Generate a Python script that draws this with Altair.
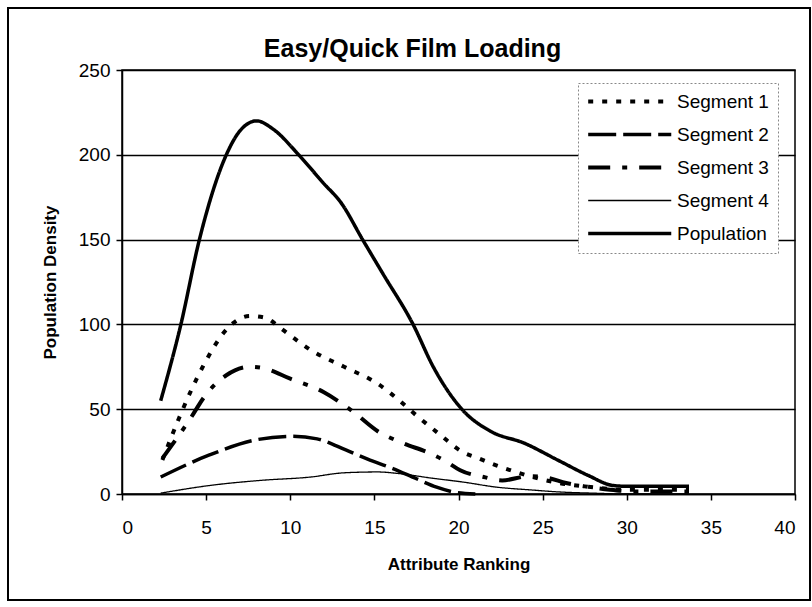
import altair as alt
import pandas as pd

series_names = ["Segment 1", "Segment 2", "Segment 3", "Segment 4", "Population"]

pop_x = [2.3, 3.5, 4.6, 6.2, 7.0, 8.0, 9.0, 10.5, 12.0, 13.0, 14.3, 15.5, 17.3, 18.5, 20.2, 21.9, 23.9, 25.9, 27.7, 29.2, 30.2, 33.7]
pop_y = [55, 100, 150, 200, 214, 220, 215, 200, 183, 172, 150, 130, 100, 75, 50, 37, 30, 20, 11, 5, 4.5, 4.5]

seg1_x = [2.4, 3.4, 4.8, 6.3, 7.6, 8.5, 9.4, 10.2, 11.2, 13.2, 15.2, 16.5, 17.3, 18.9, 20.2, 21.2, 22.2, 23.4, 25.7, 28.0, 30.0, 33.7]
seg1_y = [20, 45, 75, 98, 105, 104, 98, 92, 85, 75, 65, 55, 48, 35, 25, 21, 17, 13, 7, 4, 2.5, 2.5]

seg2_x = [2.3, 5.2, 8.0, 10.1, 11.6, 13.3, 14.6, 16.1, 17.5, 18.7, 19.8, 21.0]
seg2_y = [10, 23, 32, 34, 32.5, 26, 20.5, 15, 9, 4, 1, 0]

seg3_x = [2.4, 3.9, 5.1, 6.2, 7.6, 8.5, 10.0, 12.0, 13.8, 15.2, 16.7, 18.3, 19.3, 20.1, 21.5, 22.6, 24.2, 25.3, 26.4, 27.5, 29.0, 30.5, 33.7]
seg3_y = [21, 42, 60, 70, 75, 74, 68, 60, 48, 37, 30, 24, 19, 14, 10, 8, 10.5, 9.5, 6.5, 4.5, 2.5, 1.5, 1.5]

seg4_x = [2.3, 5.2, 8.2, 11.2, 13.2, 15.2, 16.5, 18.3, 20.3, 22.3, 24.3, 26.0, 28.0, 30.0, 33.7]
seg4_y = [0.5, 5, 8, 10, 12.5, 13, 12, 9.5, 7, 4, 2.4, 1.2, 0.5, 0, 0]

x_ticks = [0, 5, 10, 15, 20, 25, 30, 35, 40]
y_ticks = [0, 50, 100, 150, 200, 250]

rows = []
for name, xs, ys in [
    ("Segment 1", seg1_x, seg1_y),
    ("Segment 2", seg2_x, seg2_y),
    ("Segment 3", seg3_x, seg3_y),
    ("Segment 4", seg4_x, seg4_y),
    ("Population", pop_x, pop_y),
]:
    for xv, yv in zip(xs, ys):
        rows.append({"series": name, "x": xv, "y": yv})
df = pd.DataFrame(rows)

FONT = "Liberation Sans"
width_expr = ("datum.series === 'Segment 4' ? 1.3 : "
              "(datum.series === 'Population' ? 3.5 : "
              "(datum.series === 'Segment 2' ? 3.5 : 4))")
legend_width_expr = ("datum.value === 'Segment 4' ? 1.3 : "
                     "(datum.value === 'Population' ? 3.5 : "
                     "(datum.value === 'Segment 2' ? 3.5 : 4))")

lines = alt.Chart(df).transform_calculate(
    w=width_expr
).mark_line(interpolate="monotone", color="black", strokeCap="butt").encode(
    x=alt.X("x:Q", scale=alt.Scale(domain=[0, 40], nice=False),
            axis=alt.Axis(values=x_ticks, title="Attribute Ranking", grid=False)),
    y=alt.Y("y:Q", scale=alt.Scale(domain=[0, 250], nice=False),
            axis=alt.Axis(values=y_ticks, title="Population Density", grid=True)),
    strokeDash=alt.StrokeDash("series:N", title=None,
        scale=alt.Scale(domain=series_names,
                        range=[[5, 9], [28, 7], [22, 12, 5, 12], [1, 0], [1, 0]]),
        legend=alt.Legend(orient="none", legendX=456, legendY=13,
                          symbolStrokeWidth={"expr": legend_width_expr})),
    strokeWidth=alt.StrokeWidth("w:Q", scale=None, legend=None),
    detail="series:N",
)

frame = alt.Chart(df).mark_rect(fill=None, stroke="black", strokeWidth=1.2, clip=False).encode(
    x=alt.value(-114), x2=alt.value(688), y=alt.value(-62), y2=alt.value(530)
)

chart = alt.layer(frame, lines).properties(
    width=673, height=424,
    autosize=alt.AutoSizeParams(type="none"),
    padding={"left": 122, "top": 70, "right": 17, "bottom": 113},
    title=alt.TitleParams("Easy/Quick Film Loading", font=FONT, fontSize=25, fontWeight="bold",
                          color="black", anchor="middle", frame="group", dx=-46, dy=69, offset=14),
).configure_view(
    stroke="black", strokeWidth=1.5
).configure_axis(
    labelFont=FONT, labelFontSize=19, labelColor="black",
    titleFont=FONT, titleFontSize=17, titleFontWeight="bold", titleColor="black",
    domainColor="black", domainWidth=1.5, tickColor="black", tickWidth=1.5, tickSize=6,
    gridColor="black", gridWidth=1.5, gridOpacity=1,
).configure_axisX(
    labelPadding=18, titlePadding=19, labelAngle=0,
).configure_axisY(
    labelPadding=6, titlePadding=19,
).configure_legend(
    labelFont=FONT, labelFontSize=19, labelColor="black",
    fillColor="white", strokeColor="#888", strokeDash=[2, 2], padding=9,
    symbolType="M-1,0H9", symbolSize=276, symbolStrokeColor="black",
    rowPadding=13, labelOffset=71,
)

chart.save("out.html", embed_options={"renderer": "svg", "actions": False})
